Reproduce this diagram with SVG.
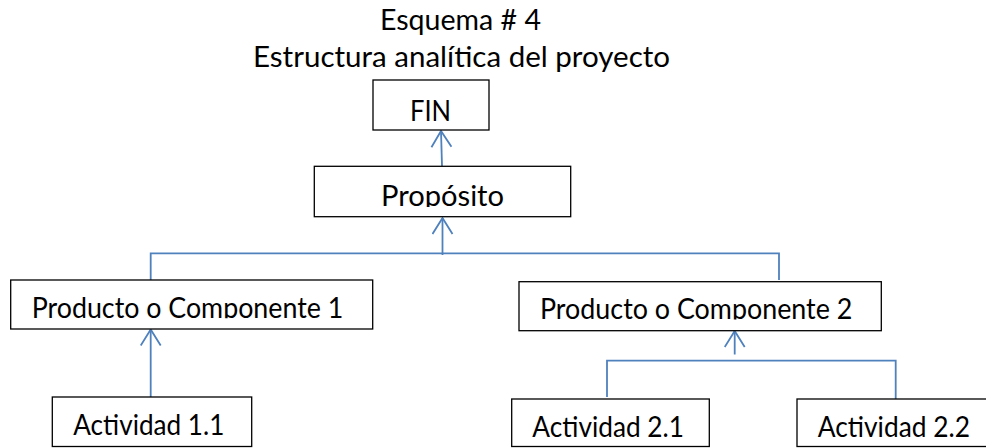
<svg xmlns="http://www.w3.org/2000/svg" width="986" height="448" viewBox="0 0 986 448">
<style>
  .box { fill: #ffffff; stroke: #000000; stroke-width: 1.3; }
  .t { font-family: Lato, "Liberation Sans", sans-serif; font-size: 28px; fill: #000000; }
  .c { fill: none; stroke: #4F81BD; stroke-width: 1.8; }
</style>
<defs>
  <marker id="arr" viewBox="0 0 22 22" refX="19" refY="11" markerWidth="22" markerHeight="22" markerUnits="userSpaceOnUse" orient="auto">
    <path d="M3,1 L19,11 L3,21" fill="none" stroke="#4F81BD" stroke-width="1.8"/>
  </marker>
  <clipPath id="cp1"><rect x="300" y="160" width="300" height="47"/></clipPath>
  <clipPath id="cp2"><rect x="0" y="280" width="380" height="38.3"/></clipPath>
  <clipPath id="cp3"><rect x="510" y="280" width="380" height="39.5"/></clipPath>
</defs>
<rect width="986" height="448" fill="#ffffff"/>
<g id="title">
  <text class="t" x="380" y="29.5" textLength="161" lengthAdjust="spacingAndGlyphs">Esquema # 4</text>
  <text class="t" x="253" y="66.5" textLength="417" lengthAdjust="spacingAndGlyphs">Estructura analítica del proyecto</text>
</g>
<g id="connectors">
  <path class="c" d="M442,166 L441,131" marker-end="url(#arr)"/>
  <path class="c" d="M442.5,255 L442.5,218" marker-end="url(#arr)"/>
  <path class="c" d="M150.7,280 L150.7,253.3 L779,253.3 L779,280"/>
  <path class="c" d="M150.7,397 L150.7,329.5" marker-end="url(#arr)"/>
  <path class="c" d="M734.7,354.5 L734.7,331" marker-end="url(#arr)"/>
  <path class="c" d="M607,397 L607,360.7 L895.7,360.7 L895.7,399"/>
</g>
<g id="fin">
  <rect class="box" x="373" y="80" width="116" height="50"/>
  <text class="t" x="410" y="120.7" textLength="41" lengthAdjust="spacingAndGlyphs">FIN</text>
</g>
<g id="proposito">
  <rect class="box" x="314.3" y="166.3" width="256.4" height="50.4"/>
  <text class="t" x="381" y="206" textLength="123" lengthAdjust="spacingAndGlyphs" clip-path="url(#cp1)">Propósito</text>
</g>
<g id="producto1">
  <rect class="box" x="10.7" y="280" width="362" height="49"/>
  <text class="t" x="31.7" y="317.5" textLength="311.6" lengthAdjust="spacingAndGlyphs" clip-path="url(#cp2)">Producto o Componente 1</text>
</g>
<g id="producto2">
  <rect class="box" x="519" y="281.7" width="362.3" height="49"/>
  <text class="t" x="540" y="319" textLength="312.3" lengthAdjust="spacingAndGlyphs" clip-path="url(#cp3)">Producto o Componente 2</text>
</g>
<g id="actividad11">
  <rect class="box" x="52.3" y="397" width="199.4" height="49.5"/>
  <text class="t" x="73.3" y="435" textLength="151" lengthAdjust="spacingAndGlyphs">Actividad 1.1</text>
</g>
<g id="actividad21">
  <rect class="box" x="511.7" y="399" width="197.6" height="47.5"/>
  <text class="t" x="532.3" y="436.7" textLength="151.7" lengthAdjust="spacingAndGlyphs">Actividad 2.1</text>
</g>
<g id="actividad22">
  <rect class="box" x="797" y="399" width="200" height="47.5"/>
  <text class="t" x="817.7" y="436.7" textLength="152.3" lengthAdjust="spacingAndGlyphs">Actividad 2.2</text>
</g>
</svg>
